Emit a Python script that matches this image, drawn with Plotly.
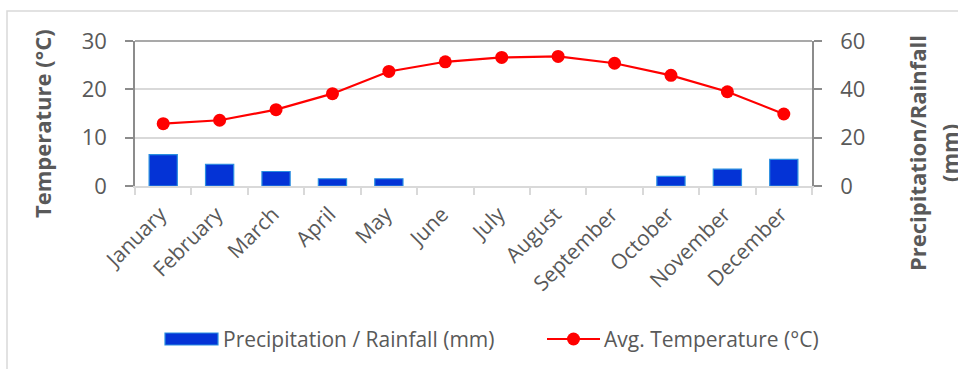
import plotly.graph_objects as go

months = ["January", "February", "March", "April", "May", "June", "July",
          "August", "September", "October", "November", "December"]
rainfall_mm = [13, 9, 6, 3, 3, 0, 0, 0, 0, 4, 7, 11]
avg_temp_c = [12.9, 13.6, 15.8, 19.1, 23.7, 25.7, 26.6, 26.8, 25.4, 22.9, 19.5, 14.9]
temp_ticks = [0, 10, 20, 30]
rain_ticks = [0, 20, 40, 60]

W, H = 958, 369
L, R, T, B = 135, 812, 41, 186
PW, PH = R - L, B - T

FONT = "Open Sans"
TICK_COLOR = "#595959"
BAR_COLOR = "#0433D6"
BAR_EDGE = "#2A8FE0"
LINE_COLOR = "#FF0000"


def px(x):
    return (x - L) / PW


def py(y):
    return (B - y) / PH


fig = go.Figure()

# rainfall bars on the right-hand axis (no outline on empty months)
fig.add_trace(go.Bar(
    x=months, y=rainfall_mm, yaxis="y",
    marker=dict(color=BAR_COLOR,
                line=dict(color=BAR_EDGE,
                          width=[1.2 if v > 0 else 0 for v in rainfall_mm])),
    name="Precipitation / Rainfall (mm)", showlegend=False,
))

# temperature line on the left-hand axis, drawn above the bars
fig.add_trace(go.Scatter(
    x=months, y=avg_temp_c, yaxis="y2", mode="lines+markers",
    line=dict(color=LINE_COLOR, width=2.2),
    marker=dict(color=LINE_COLOR, size=13),
    name="Avg. Temperature (°C)", showlegend=False,
))

shapes = [
    # outer chart frame
    dict(type="rect", xref="paper", yref="paper",
         x0=px(7), x1=px(990), y0=py(400), y1=py(11),
         line=dict(color="#D9D9D9", width=1.5), fillcolor="rgba(0,0,0,0)", layer="below"),
    # top border of the plot area
    dict(type="line", xref="paper", yref="paper", x0=0, x1=1, y0=1, y1=1,
         line=dict(color="#8C8C8C", width=1.5)),
    # legend: rainfall swatch
    dict(type="rect", xref="paper", yref="paper",
         x0=px(165), x1=px(218), y0=py(345), y1=py(333),
         fillcolor=BAR_COLOR, line=dict(color=BAR_EDGE, width=1.2)),
    # legend: temperature line + marker
    dict(type="line", xref="paper", yref="paper",
         x0=px(547), x1=px(600), y0=py(339), y1=py(339),
         line=dict(color=LINE_COLOR, width=2.2)),
    dict(type="circle", xref="paper", yref="paper",
         x0=px(567), x1=px(580), y0=py(345.5), y1=py(332.5),
         fillcolor=LINE_COLOR, line=dict(color=LINE_COLOR, width=0)),
]

title_font = dict(family=FONT, size=22, color=TICK_COLOR)
legend_font = dict(family=FONT, size=21, color=TICK_COLOR)
annotations = [
    dict(text="<b>Temperature (°C)</b>", xref="paper", yref="paper",
         x=px(42), y=py(124), textangle=-90, showarrow=False,
         xanchor="center", yanchor="middle", font=title_font),
    dict(text="<b>Precipitation/Rainfall</b>", xref="paper", yref="paper",
         x=px(917), y=py(153), textangle=-90, showarrow=False,
         xanchor="center", yanchor="middle", font=title_font),
    dict(text="<b>(mm)</b>", xref="paper", yref="paper",
         x=px(949), y=py(153), textangle=-90, showarrow=False,
         xanchor="center", yanchor="middle", font=title_font),
    dict(text="Precipitation / Rainfall (mm)", xref="paper", yref="paper",
         x=px(221), y=py(339), showarrow=False, xanchor="left", yanchor="middle",
         font=legend_font),
    dict(text="Avg. Temperature (°C)", xref="paper", yref="paper",
         x=px(602), y=py(339), showarrow=False, xanchor="left", yanchor="middle",
         font=legend_font),
]

fig.update_layout(
    width=W, height=H,
    margin=dict(l=L, r=W - R, t=T, b=H - B, pad=0),
    paper_bgcolor="white", plot_bgcolor="white",
    font=dict(family=FONT, size=21, color=TICK_COLOR),
    bargap=0.5,
    showlegend=False,
    xaxis=dict(
        type="category", range=[-0.5, len(months) - 0.5],
        tickangle=-45, tickson="boundaries",
        ticks="outside", ticklen=7, tickcolor="#D9D9D9", tickwidth=1.5,
        showline=True, linecolor="#D9D9D9", linewidth=1.5,
        showgrid=False, ticklabelstandoff=6, ticklabelshift=-3,
        tickfont=dict(family=FONT, size=21, color=TICK_COLOR),
    ),
    yaxis=dict(
        side="right", range=[0, 60], tickvals=rain_ticks,
        ticks="outside", ticklen=8, tickcolor="#8C8C8C", tickwidth=1.5,
        showline=True, linecolor="#8C8C8C", linewidth=1.5,
        showgrid=False, zeroline=False, ticklabelstandoff=14,
        tickfont=dict(family=FONT, size=22, color=TICK_COLOR),
    ),
    yaxis2=dict(
        side="left", overlaying="y", range=[0, 30], tickvals=temp_ticks,
        ticks="outside", ticklen=8, tickcolor="#8C8C8C", tickwidth=1.5,
        showline=True, linecolor="#8C8C8C", linewidth=1.5,
        showgrid=True, gridcolor="#D9D9D9", gridwidth=1.5, zeroline=False,
        ticklabelstandoff=14,
        tickfont=dict(family=FONT, size=22, color=TICK_COLOR),
    ),
    shapes=shapes,
    annotations=annotations,
)

fig.write_html("out.html")
